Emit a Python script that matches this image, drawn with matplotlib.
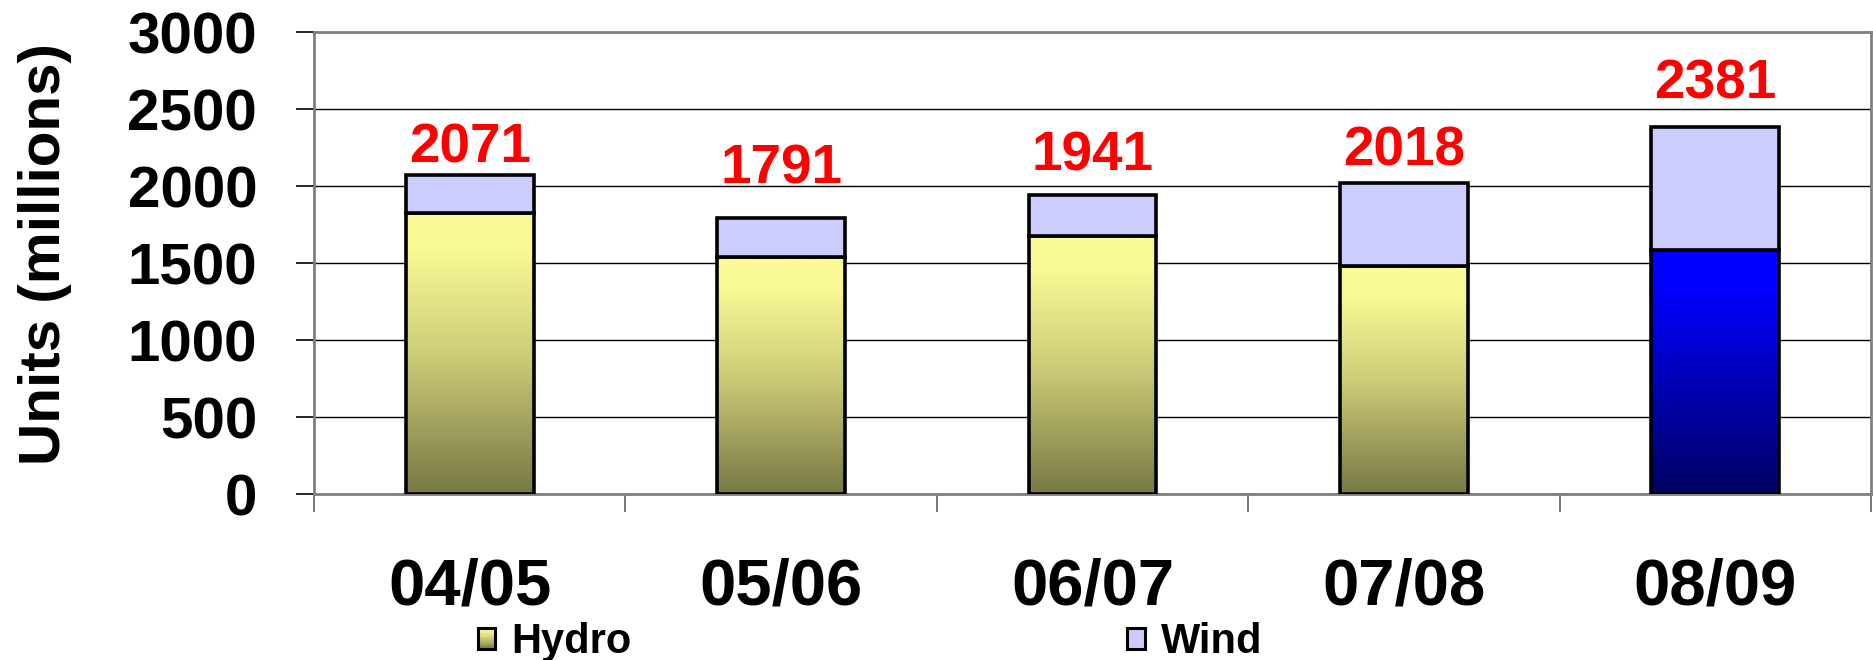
import numpy as np
import matplotlib
matplotlib.use("Agg")
import matplotlib.pyplot as plt
from matplotlib.colors import LinearSegmentedColormap
from matplotlib.patches import Patch, Rectangle
from matplotlib.legend_handler import HandlerBase

# ---- data ----
categories = ["04/05", "05/06", "06/07", "07/08", "08/09"]
hydro = [1825, 1540, 1675, 1480, 1585]
wind = [246, 251, 266, 538, 796]
totals = [2071, 1791, 1941, 2018, 2381]
yticks = [0, 500, 1000, 1500, 2000, 2500, 3000]
series_names = ["Hydro", "Wind"]

# per-label vertical offset above bar top (points), as placed in the original
label_offset_pt = [9, 25, 18, 13, 21]

plt.rcParams['font.family'] = ['Liberation Sans', 'DejaVu Sans']
plt.rcParams['font.weight'] = 'bold'

fig = plt.figure(figsize=(18.74, 6.6), dpi=100)
ax = fig.add_axes([0.1676, 0.2515, 0.8308, 0.700])

xpos = np.arange(len(categories))
width = 0.41

yellow_cmap = LinearSegmentedColormap.from_list(
    "hyd", [(0.0, (120/255, 120/255, 70/255)),
            (0.5, (205/255, 205/255, 120/255)),
            (0.88, (250/255, 250/255, 150/255)),
            (1.0, (250/255, 250/255, 150/255))])
blue_cmap = LinearSegmentedColormap.from_list(
    "blu", [(0.0, (0, 0, 100/255)),
            (0.85, (0, 0, 1.0)),
            (1.0, (0, 0, 1.0))])

EDGE_LW = 2.6

hbars = ax.bar(xpos, hydro, width, facecolor='none', edgecolor='black',
               linewidth=EDGE_LW, zorder=4)
wbars = ax.bar(xpos, wind, width, bottom=hydro, facecolor='#CCCCFF',
               edgecolor='black', linewidth=EDGE_LW, zorder=4)

grad = np.linspace(0, 1, 256).reshape(-1, 1)
for i, b in enumerate(hbars):
    cmap = blue_cmap if i == len(hbars) - 1 else yellow_cmap
    x0, y0, w, h = b.get_x(), b.get_y(), b.get_width(), b.get_height()
    im = ax.imshow(grad, cmap=cmap, origin='lower', aspect='auto',
                   extent=(x0, x0 + w, y0, y0 + h), zorder=3,
                   interpolation='bilinear')
    im.set_clip_path(b)

for i, b in enumerate(wbars):
    top = b.get_y() + b.get_height()
    ax.annotate(str(totals[i]), (b.get_x() + b.get_width() / 2, top),
                xytext=(0, label_offset_pt[i]), textcoords='offset points',
                ha='center', va='baseline', color='#FF0000',
                fontsize=39.5, fontweight='bold', zorder=5)

ax.set_xlim(-0.5, len(categories) - 0.5)
ax.set_ylim(0, 3000)
ax.set_yticks(yticks)
ax.set_yticklabels([str(v) for v in yticks])
ax.yaxis.grid(True, color='black', linewidth=1.0, zorder=0)
ax.set_axisbelow(True)

ax.set_xticks(xpos)
ax.set_xticklabels(categories)
ax.set_xticks(np.arange(len(categories) + 1) - 0.5, minor=True)
ax.tick_params(axis='x', which='major', length=0, pad=46, labelsize=47)
ax.tick_params(axis='x', which='minor', length=13, width=1.2,
               color='#606060', direction='out')
ax.tick_params(axis='y', which='major', length=13, width=1.2,
               color='black', pad=28, labelsize=42)
for lab in ax.get_xticklabels() + ax.get_yticklabels():
    lab.set_fontweight('bold')

for s in ax.spines.values():
    s.set_color('#808080')
    s.set_linewidth(2.0)

fig.text(45 / 1874, 0.615, "Units (millions)", rotation=90, ha='center',
         va='center', fontsize=42, fontweight='bold')


class GradientHandler(HandlerBase):
    def __init__(self, cmap):
        super().__init__()
        self.cmap = cmap

    def create_artists(self, legend, orig_handle, xdescent, ydescent,
                       width, height, fontsize, trans):
        arts = []
        n = 12
        for k in range(n):
            c = self.cmap(1 - (k + 0.5) / n)
            arts.append(Rectangle((-xdescent, -ydescent + height * (n - k - 1) / n),
                                  width, height / n, facecolor=c,
                                  edgecolor='none', transform=trans))
        arts.append(Rectangle((-xdescent, -ydescent), width, height,
                              facecolor='none', edgecolor='black',
                              linewidth=2.2, transform=trans))
        return arts


hydro_handle = Patch(facecolor='#D8D88A', edgecolor='black')
wind_handle = Patch(facecolor='#CCCCFF', edgecolor='black', linewidth=2.2)
fig.legend([hydro_handle, wind_handle], series_names, loc='center left',
           bbox_to_anchor=(478 / 1874, 0.027), ncol=2, frameon=False,
           handlelength=0.42, handleheight=0.42,
           handletextpad=0.38, columnspacing=11.9, borderpad=0,
           borderaxespad=0, prop={'weight': 'bold', 'size': 30},
           handler_map={hydro_handle: GradientHandler(yellow_cmap)})

fig.savefig("out.png", dpi=100)
